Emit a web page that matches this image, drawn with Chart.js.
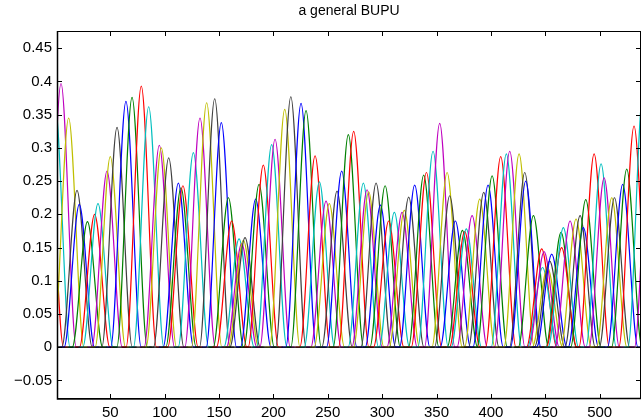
<!DOCTYPE html>
<html>
<head>
<meta charset="utf-8">
<script src="https://cdn.jsdelivr.net/npm/chart.js@4.4.1/dist/chart.umd.min.js"></script>
<style>
  html, body { margin: 0; padding: 0; background: #fff; }
</style>
</head>
<body>
<canvas id="bupu" width="642" height="420"></canvas>
<script>
// peak position and height of each basis bump, in plotting order
const peakX = [
  -7, -1, 4.7, 11.7, 19.4, 21.5, 29, 35.6, 38.7, 47.0,
  50.0, 56.2, 64.4, 70.0, 78.5, 85.3, 95.1, 96.9, 103.7, 112.6,
  115.0, 116.8, 126.4, 132.5, 138.6, 146.0, 152.1, 158.6, 161.6, 168.4,
  170.8, 172.4, 173.9, 183.7, 186.8, 190.7, 198.4, 201.5, 210.4, 216.0,
  225.4, 230.0, 238.3, 242.3, 248.4, 251.4, 258.5, 262.8, 268.9, 273.8,
  282.7, 286.1, 287.6, 294.4, 298.4, 302.7, 306, 311.2, 318.3, 320.4,
  324.4, 329.9, 338.2, 340.7, 346.8, 352.9, 359.7, 362.1, 367.3, 373.8,
  375.9, 377.4, 382.7, 389.7, 393.4, 397.4, 401.1, 409.0, 414.2, 417.3,
  425.9, 431.1, 432.0, 439.1, 446.7, 447.5, 448.9, 452, 454, 455.9,
  464.5, 465, 466.6, 472.8, 478.3, 482.0, 485, 487.2, 494.9, 501.3,
  504.1, 511.1, 513.6, 521.2, 524.9, 531.6, 540, 546
];
const peakY = [
  0.32, 0.37, 0.397, 0.345, 0.236, 0.215, 0.189, 0.200, 0.216, 0.265,
  0.287, 0.331, 0.370, 0.376, 0.393, 0.362, 0.304, 0.300, 0.285, 0.247,
  0.240, 0.243, 0.293, 0.345, 0.368, 0.374, 0.338, 0.225, 0.190, 0.163,
  0.156, 0.161, 0.165, 0.223, 0.245, 0.274, 0.305, 0.313, 0.358, 0.377,
  0.367, 0.356, 0.288, 0.249, 0.220, 0.216, 0.235, 0.265, 0.320, 0.325,
  0.247, 0.237, 0.234, 0.247, 0.214, 0.243, 0.19, 0.203, 0.203, 0.206,
  0.226, 0.244, 0.259, 0.263, 0.295, 0.337, 0.263, 0.228, 0.190, 0.176,
  0.174, 0.178, 0.198, 0.223, 0.233, 0.244, 0.258, 0.287, 0.291, 0.295,
  0.291, 0.263, 0.250, 0.198, 0.148, 0.12, 0.144, 0.12, 0.13, 0.140,
  0.173, 0.15, 0.180, 0.190, 0.193, 0.198, 0.18, 0.222, 0.291, 0.276,
  0.255, 0.225, 0.225, 0.245, 0.268, 0.333, 0.385, 0.34
];
const halfWidth = 14;   // distance from peak to where a bump meets zero

const xTicks = [50, 100, 150, 200, 250, 300, 350, 400, 450, 500];
const yTicks = [-0.05, 0, 0.05, 0.1, 0.15, 0.2, 0.25, 0.3, 0.35, 0.4, 0.45];
const yTickLabels = ['\u22120.05', '0', '0.05', '0.1', '0.15', '0.2', '0.25', '0.3', '0.35', '0.4', '0.45'];

// old MATLAB colour order: b g r c m y k
const colorOrder = ['#0000ff', '#008000', '#ff0000', '#00bfbf', '#bf00bf', '#bfbf00', '#404040'];
const firstColor = 2;

const datasets = [{
  data: [{x: 1, y: 0}, {x: 538, y: 0}],
  borderColor: '#000',
  borderWidth: 1.2,
  order: -1
}];
peakX.forEach((c, i) => {
  datasets.push({
    data: [
      {x: c - halfWidth - 4, y: 0},
      {x: c - halfWidth, y: 0},
      {x: c, y: peakY[i]},
      {x: c + halfWidth, y: 0},
      {x: c + halfWidth + 4, y: 0}
    ],
    borderColor: colorOrder[(i + firstColor) % 7],
    borderWidth: 1.2,
    cubicInterpolationMode: 'monotone',
    order: peakX.length - i
  });
});

const frame = {
  id: 'frame',
  afterDatasetsDraw(chart) {
    const {ctx, chartArea: a, scales: {x, y}} = chart;
    const len = 5;
    ctx.save();
    ctx.strokeStyle = '#000';
    ctx.lineWidth = 1;
    ctx.beginPath();
    x.ticks.forEach(t => {
      const p = Math.round(x.getPixelForValue(t.value)) + 0.5;
      ctx.moveTo(p, a.bottom); ctx.lineTo(p, a.bottom - len);
      ctx.moveTo(p, a.top); ctx.lineTo(p, a.top + len);
    });
    y.ticks.forEach(t => {
      const p = Math.round(y.getPixelForValue(t.value)) + 0.5;
      ctx.moveTo(a.left, p); ctx.lineTo(a.left + len, p);
      ctx.moveTo(a.right, p); ctx.lineTo(a.right - len, p);
    });
    ctx.stroke();
    ctx.strokeRect(a.left + 0.5, a.top + 0.5, a.right - a.left - 1, a.bottom - a.top - 1);
    ctx.lineWidth = 1.5;
    ctx.beginPath();
    ctx.moveTo(a.left + 0.5, a.top); ctx.lineTo(a.left + 0.5, a.bottom);
    ctx.lineTo(a.right, a.bottom - 0.5);
    ctx.stroke();
    ctx.restore();
  }
};

Chart.defaults.font.family = '"Liberation Sans", Arial, Helvetica, sans-serif';
Chart.defaults.color = '#000';

new Chart(document.getElementById('bupu'), {
  type: 'line',
  data: { datasets },
  options: {
    responsive: false,
    animation: false,
    events: [],
    layout: { padding: { left: 0, right: 1, top: 0, bottom: 0 } },
    elements: { point: { radius: 0 }, line: { fill: false } },
    plugins: {
      legend: { display: false },
      tooltip: { enabled: false },
      title: {
        display: true,
        fullSize: false,
        text: 'a general BUPU',
        font: { size: 14, weight: 'normal' },
        padding: { top: 3, bottom: 11.2 }
      }
    },
    scales: {
      x: {
        type: 'linear',
        min: 1,
        max: 538,
        afterBuildTicks: s => { s.ticks = xTicks.map(v => ({ value: v })); },
        afterFit: s => { s.height = 21; },
        grid: { display: false, drawTicks: false },
        border: { display: false },
        ticks: { font: { size: 15 }, padding: 5, maxRotation: 0 }
      },
      y: {
        type: 'linear',
        min: -0.078,
        max: 0.476,
        afterBuildTicks: s => { s.ticks = yTicks.map(v => ({ value: v })); },
        afterFit: s => { s.width = 57; },
        grid: { display: false, drawTicks: false },
        border: { display: false },
        ticks: {
          font: { size: 15 },
          padding: 5,
          callback: (v, i) => yTickLabels[i]
        }
      }
    }
  },
  plugins: [frame]
});
</script>
</body>
</html>
